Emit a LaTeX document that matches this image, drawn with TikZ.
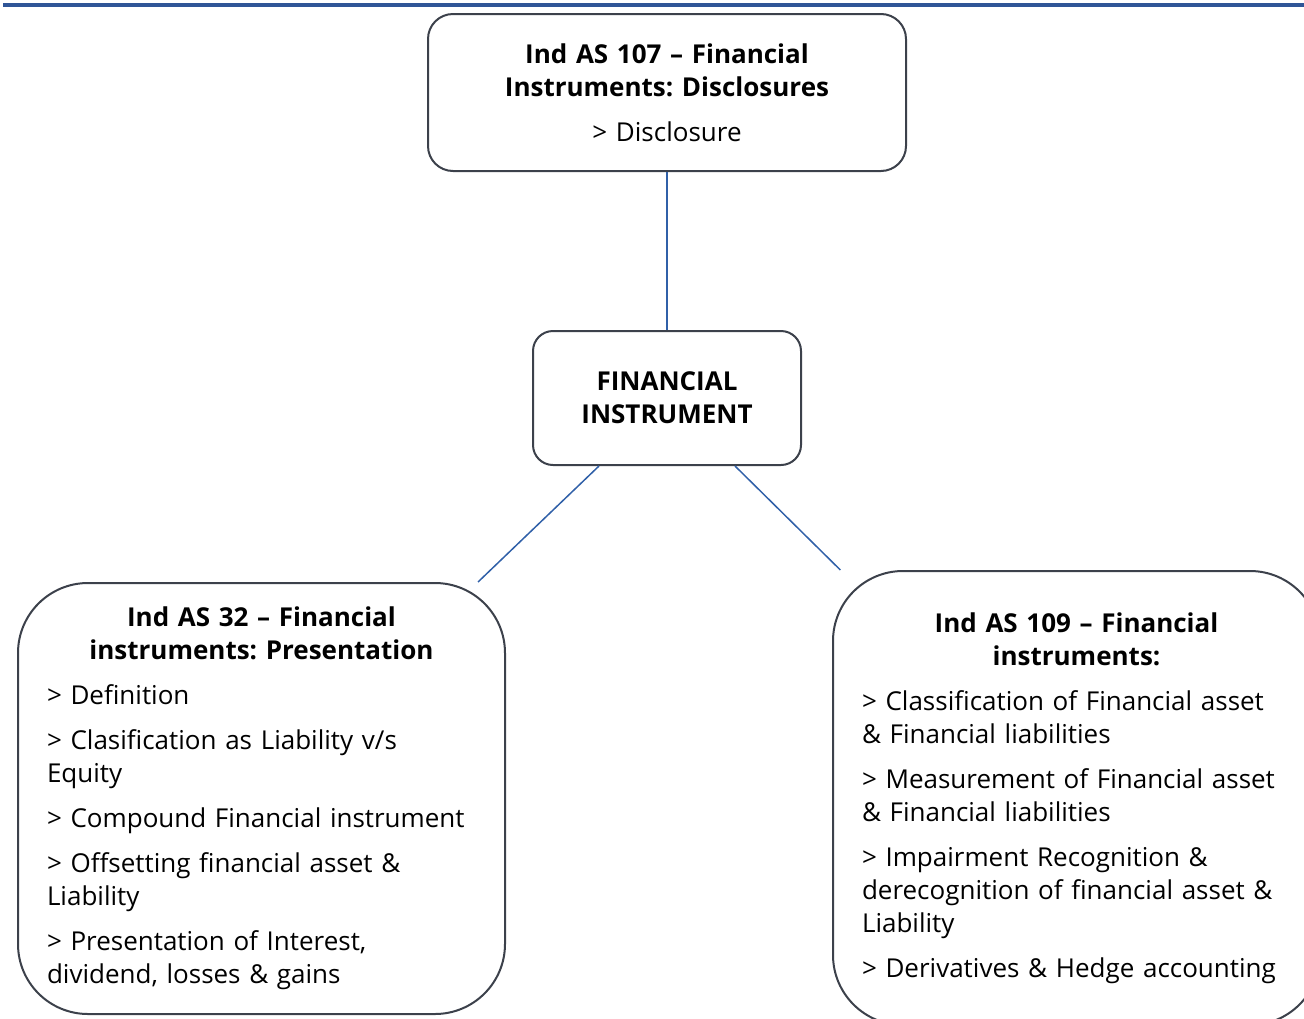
\documentclass[tikz,border=0pt]{standalone}
\usepackage{fontspec}
\setmainfont{Open Sans}
\frenchspacing
\usetikzlibrary{positioning}

\definecolor{rulecol}{HTML}{2F5597}
\definecolor{boxcol}{HTML}{3C414B}
\definecolor{linkcol}{HTML}{3060A8}

\newcommand{\gap}{\par\vspace{12pt}}

\tikzset{
  topic/.style={draw=boxcol, line width=2pt, fill=white, inner sep=0pt,
    font=\fontsize{26}{33}\selectfont},
  link/.style={draw=linkcol, line width=1.5pt},
}

\begin{document}
\begin{tikzpicture}[x=1pt, y=-1pt]
    \useasboundingbox (0,0) rectangle (1304,1018);
    \draw[rulecol, line width=3.5pt] (3,5) -- (1304,5);

    \node[topic, minimum width=478pt, minimum height=157pt, rounded corners=25pt,
      text width=440pt, align=center] (disc) at (667,92.5)
      {\textbf{Ind AS 107 – Financial\\ Instruments: Disclosures}\gap
       > Disclosure};

    \node[topic, minimum width=268pt, minimum height=134pt, rounded corners=20pt,
      text width=240pt, align=center] (fin) at (667,398)
      {\textbf{FINANCIAL\\ INSTRUMENT}};

    \node[topic, minimum width=487pt, minimum height=431pt, rounded corners=70pt,
      text width=429pt, align=left] (pres) at (261.5,798.5)
      {{\centering\bfseries Ind AS 32 – Financial\\ instruments: Presentation\par}
       \vspace{12pt}\raggedright
       > Definition\gap
       > Clasification as Liability v/s\\ Equity\gap
       > Compound Financial instrument\gap
       > Offsetting financial asset \&\\ Liability\gap
       > Presentation of Interest,\\ dividend, losses \& gains};

    \node[topic, minimum width=487pt, minimum height=454pt, rounded corners=70pt,
      text width=429pt, align=left] (meas) at (1076.5,798)
      {{\centering\bfseries Ind AS 109 – Financial\\ instruments:\par}
       \vspace{12pt}\raggedright
       > Classification of Financial asset\\ \& Financial liabilities\gap
       > Measurement of Financial asset\\ \& Financial liabilities\gap
       > Impairment Recognition \&\\ derecognition of financial asset \&\\ Liability\gap
       > Derivatives \& Hedge accounting};

    \draw[link] (disc.south) -- (fin.north);
    \draw[link] (fin.-135) -- (pres.45);
    \draw[link] (fin.-45) -- (meas.136);
\end{tikzpicture}
\end{document}
